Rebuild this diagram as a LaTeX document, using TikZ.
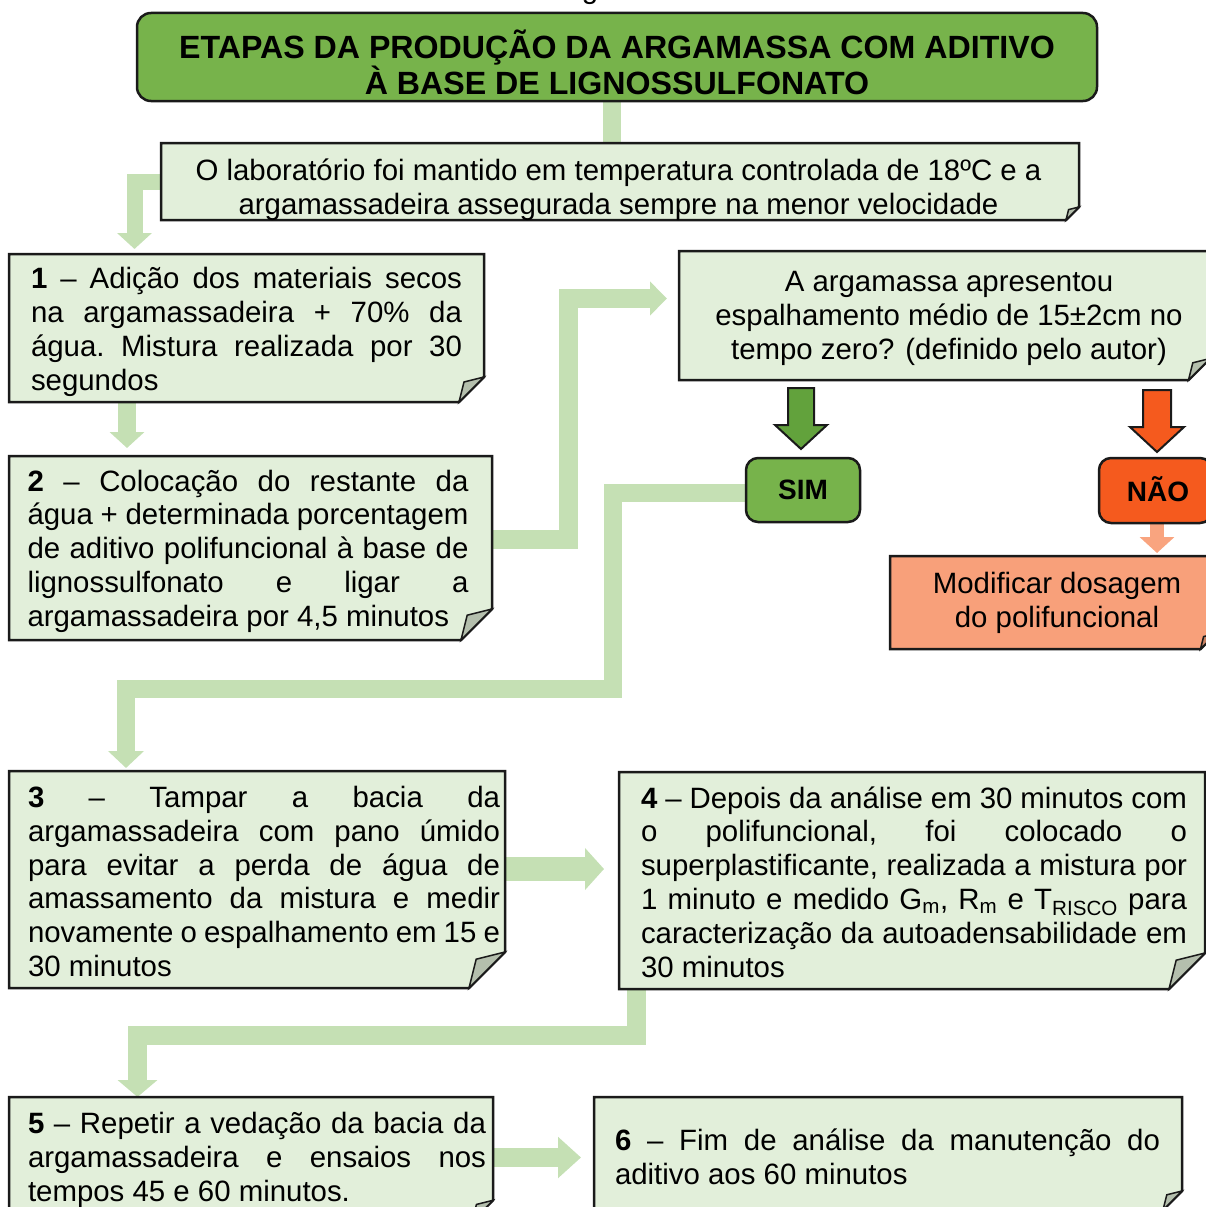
\documentclass[tikz,border=0pt]{standalone}
\usepackage{fontspec}
\setmainfont{Liberation Sans}
\usetikzlibrary{arrows.meta}

\definecolor{boxfill}{HTML}{E2EFDA}
\definecolor{foldfill}{HTML}{B4BFAD}
\definecolor{connfill}{HTML}{C5E0B4}
\definecolor{headgreen}{HTML}{77B34B}
\definecolor{simarrow}{HTML}{62A23C}
\definecolor{naofill}{HTML}{F55A1E}
\definecolor{modfill}{HTML}{F8A07A}
\definecolor{modfold}{HTML}{C68062}
\definecolor{modarrow}{HTML}{F9A47F}
\definecolor{edge}{HTML}{1A1A1A}

% use the font's own interword space (align=left fixes it otherwise)
\newcommand\plainspaces{\frenchspacing\spaceskip=0pt\xspaceskip=0pt\relax}
% one fully justified line of a paragraph
\newcommand\jline[1]{\makebox[\linewidth][s]{\plainspaces#1}}

% box outline with a folded bottom-right corner: node, fold size, fill, fold fill
\newcommand\foldedbox[4]{%
  \draw[edge line, fill=#3] (#1.north west) -- (#1.north east)
    -- ([yshift=#2]#1.south east) -- ([xshift=-#2]#1.south east)
    -- (#1.south west) -- cycle;
  \draw[edge line, line width=1.5pt, fill=#4] ([xshift=-#2]#1.south east)
    -- ([xshift=-0.8*#2, yshift=0.8*#2]#1.south east)
    -- ([yshift=#2]#1.south east) -- cycle;
}

% outlined block arrow pointing down: tip, head half width, head length,
% shaft half width, shaft length, fill
\newcommand\blockdown[6]{%
  \draw[edge line, line width=2pt, fill=#6] (#1) -- ++(-#2,-#3) -- ++(#2-#4,0)
    -- ++(0,-#5) -- ++(2*#4,0) -- ++(0,#5) -- ++(#2-#4,0) -- cycle;
}

\tikzset{
  edge line/.style={draw=edge, line width=2.5pt, line join=miter},
  area/.style={rectangle, inner sep=0pt, outer sep=0pt},
  body/.style={font=\fontsize{29.4}{33.8}\selectfont, inner sep=0pt, align=left},
  centred/.style={font=\fontsize{29.4}{33.8}\selectfont, inner sep=0pt, align=center},
  conn/.style={draw=connfill, line width=#1, line cap=butt, line join=miter},
}

\begin{document}
\begin{tikzpicture}[x=1pt, y=-1pt]
\useasboundingbox (0,0) rectangle (1206,1207);
\clip (0,0) rectangle (1206,1207);

% caption line above, mostly outside the page
\node[anchor=base, font=\fontsize{29.4}{33.8}\selectfont, inner sep=0pt] (caption) at (590,-1) {g};

% box areas
\node[area, minimum width=960pt, minimum height=88pt]  (title) at (617,57) {};
\node[area, minimum width=918pt, minimum height=77pt]  (b0)    at (620,181.5) {};
\node[area, minimum width=475pt, minimum height=148pt] (b1)    at (246.5,328) {};
\node[area, minimum width=483pt, minimum height=184pt] (b2)    at (250.5,548) {};
\node[area, minimum width=531pt, minimum height=129pt] (q)     at (944.5,315.5) {};
\node[area, minimum width=114pt, minimum height=64pt]  (sim)   at (803,490) {};
\node[area, minimum width=113pt, minimum height=65pt]  (nao)   at (1155.5,490.5) {};
\node[area, minimum width=326pt, minimum height=93pt]  (mod)   at (1053,602.5) {};
\node[area, minimum width=496pt, minimum height=217pt] (b3)    at (257,879.5) {};
\node[area, minimum width=586pt, minimum height=217pt] (b4)    at (912,880.5) {};
\node[area, minimum width=484pt, minimum height=124pt] (b5)    at (251,1159) {};
\node[area, minimum width=588pt, minimum height=113pt] (b6)    at (888,1153.5) {};

% connectors
\draw[conn=18pt] ([xshift=-5pt]title.south) -- ++(0,42);
\draw[conn=16pt, -{Triangle[width=34pt,length=16pt]}, shorten >=5pt]
  (b0.west) -| ([xshift=-112pt]b1.north);
\draw[conn=18pt, -{Triangle[width=34pt,length=16pt]}]
  ([xshift=-119.5pt]b1.south) -- ++(0,46);
\draw[conn=19pt, -{Triangle[width=33pt,length=17pt]}]
  ([yshift=9pt]b2.east) -- ++(76,0) |- ([xshift=-12pt,yshift=17pt]q.west);
\draw[conn=18pt, -{Triangle[width=35pt,length=17pt]}]
  ([yshift=-2.5pt]sim.west) -- ++(-133,0) -- ++(0,196) -| ([xshift=-131pt,yshift=3pt]b3.north);
\draw[conn=24pt, -{Triangle[width=41pt,length=19pt]}]
  ([yshift=10.5pt]b3.east) -- ++(99,0);
\draw[conn=19pt, -{Triangle[width=39pt,length=17pt]}]
  ([xshift=-275.5pt]b4.south) -- ++(0,46.5) -| ([xshift=-113.5pt]b5.north);
\draw[conn=19pt, -{Triangle[width=40pt,length=23pt]}]
  ([yshift=1.5pt]b5.east) -- ++(88,0);
\draw[draw=modarrow, line width=14pt, -{Triangle[width=34pt,length=16pt]}]
  ([xshift=1.5pt]nao.south) -- ++(0,30);

% decision arrows
\coordinate (simtip) at ([xshift=-2pt,yshift=9pt]sim.north);
\coordinate (naotip) at ([xshift=1.5pt,yshift=6pt]nao.north);
\blockdown{simtip}{26}{24}{13}{37}{simarrow}
\blockdown{naotip}{27}{25}{14}{37}{naofill}

% boxes
\draw[edge line, fill=headgreen, rounded corners=14pt] (title.north west) rectangle (title.south east);
\foldedbox{b0}{13pt}{boxfill}{foldfill}
\foldedbox{b1}{25pt}{boxfill}{foldfill}
\foldedbox{b2}{31pt}{boxfill}{foldfill}
\foldedbox{q}{21.5pt}{boxfill}{foldfill}
\draw[edge line, fill=headgreen, rounded corners=12pt] (sim.north west) rectangle (sim.south east);
\draw[edge line, fill=naofill, rounded corners=12pt] (nao.north west) rectangle (nao.south east);
\foldedbox{mod}{15.5pt}{modfill}{modfold}
\foldedbox{b3}{36pt}{boxfill}{foldfill}
\foldedbox{b4}{36pt}{boxfill}{foldfill}
\foldedbox{b5}{20.7pt}{boxfill}{foldfill}
\foldedbox{b6}{19pt}{boxfill}{foldfill}

% texts
\node[inner sep=0pt, align=center, font=\bfseries\fontsize{32.15}{36.5}\selectfont] (titletext) at (617,62.5)
  {ETAPAS DA PRODUÇÃO DA ARGAMASSA COM ADITIVO\\À BASE DE LIGNOSSULFONATO};
\node[centred] (t0) at (618.5,190)
  {O laboratório foi mantido em temperatura controlada de 18ºC e a\\argamassadeira assegurada sempre na menor velocidade};
\node[body, text width=431pt] (t1) at (246.5,332)
  {\plainspaces
   \jline{\textbf{1} – Adição dos materiais secos}\\
   \jline{na argamassadeira + 70\% da}\\
   \jline{água. Mistura realizada por 30}\\
   segundos};
\node[body, text width=441pt] (t2) at (248,551)
  {\plainspaces
   \jline{\textbf{2} – Colocação do restante da}\\
   \jline{água + determinada porcentagem}\\
   \jline{de aditivo polifuncional à base de}\\
   \jline{lignossulfonato e ligar a}\\
   argamassadeira por 4,5 minutos};
\node[centred] (tq) at (949,318.5)
  {A argamassa apresentou\\espalhamento médio de 15±2cm no\\tempo zero? (definido pelo autor)};
\node[inner sep=0pt, font=\bfseries\fontsize{28}{32}\selectfont] (tsim) at (803,490) {SIM};
\node[inner sep=0pt, font=\bfseries\fontsize{28}{32}\selectfont] (tnao) at (1158,489) {NÃO};
\node[centred] (tmod) at (1057,603) {Modificar dosagem\\do polifuncional};
\node[body, text width=472pt] (t3) at (264,881.5)
  {\plainspaces
   \jline{\textbf{3} – Tampar a bacia da}\\
   \jline{argamassadeira com pano úmido}\\
   \jline{para evitar a perda de água de}\\
   \jline{amassamento da mistura e medir}\\
   \jline{novamente o espalhamento em 15 e}\\
   30 minutos};
\node[body, text width=546pt] (t4) at (914,882)
  {\plainspaces
   \jline{\textbf{4} – Depois da análise em 30 minutos com}\\
   \jline{o polifuncional, foi colocado o}\\
   \jline{superplastificante, realizada a mistura por}\\
   \jline{1 minuto e medido G\textsubscript{m}, R\textsubscript{m} e T\textsubscript{RISCO} para}\\
   \jline{caracterização da autoadensabilidade em}\\
   30 minutos};
\node[body, text width=458pt] (t5) at (257,1160)
  {\plainspaces
   \jline{\textbf{5} – Repetir a vedação da bacia da}\\
   \jline{argamassadeira e ensaios nos}\\
   tempos 45 e 60 minutos.};
\node[body, text width=545pt] (t6) at (887.5,1157)
  {\plainspaces
   \jline{\textbf{6} – Fim de análise da manutenção do}\\
   aditivo aos 60 minutos};
\end{tikzpicture}
\end{document}
